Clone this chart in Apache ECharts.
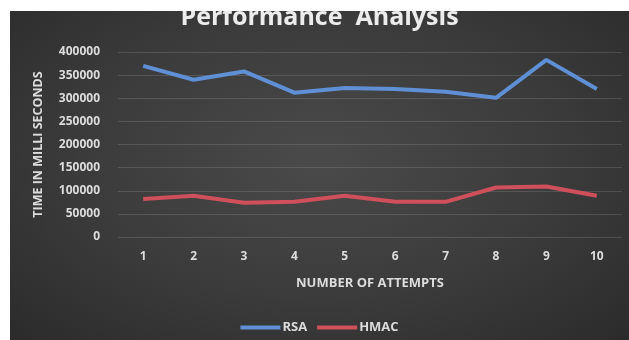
<!DOCTYPE html>
<html>
<head>
<meta charset="utf-8">
<script src="https://cdn.jsdelivr.net/npm/echarts@6/dist/echarts.min.js"></script>
<style>
  html, body { margin: 0; padding: 0; background: #ffffff; }
  #wrap {
    position: absolute; left: 10px; top: 11px; width: 619px; height: 329px;
    background: radial-gradient(ellipse at 50% 45%, #4a4a4a 0%, #3b3b3b 55%, #2b2b2b 100%);
    overflow: hidden;
  }
  #chart { width: 619px; height: 329px; }
</style>
</head>
<body>
<div id="wrap"><div id="chart"></div></div>
<script>
const attempts = ['1', '2', '3', '4', '5', '6', '7', '8', '9', '10'];
const rsa = [370000, 340000, 358000, 312000, 322000, 320000, 314000, 301000, 383000, 320000];
const hmac = [82000, 89000, 74000, 76000, 89000, 76000, 76000, 107000, 109000, 89000];

const textColor = '#dcdcdc';
const font = '"Open Sans", "Liberation Sans", sans-serif';

const myChart = echarts.init(document.getElementById('chart'));

myChart.setOption({
  backgroundColor: 'transparent',
  title: {
    text: 'Performance  Analysis',
    left: 'center',
    top: -11,
    textStyle: { color: '#ececec', fontSize: 25, fontWeight: 'bold', fontFamily: font }
  },
  legend: {
    data: ['RSA', 'HMAC'],
    left: 'center',
    top: 305,
    icon: 'rect',
    itemWidth: 40,
    itemHeight: 4,
    itemGap: 10,
    textStyle: { color: textColor, fontSize: 13, fontWeight: 'bold', fontFamily: font, padding: [0, 0, 0, -3] }
  },
  grid: { left: 108, right: 7, top: 41, bottom: 103 },
  xAxis: {
    type: 'category',
    data: attempts,
    boundaryGap: true,
    name: 'NUMBER OF ATTEMPTS',
    nameLocation: 'middle',
    nameGap: 40,
    nameTextStyle: { color: textColor, fontSize: 13, fontWeight: 'bold', fontFamily: font },
    axisLine: { show: false },
    axisTick: { show: false },
    axisLabel: { color: textColor, fontSize: 12, fontWeight: 'bold', fontFamily: font, margin: 14 }
  },
  yAxis: {
    type: 'value',
    min: 0,
    max: 400000,
    interval: 50000,
    name: 'TIME IN MILLI SECONDS',
    nameLocation: 'middle',
    nameGap: 73,
    nameTextStyle: { color: textColor, fontSize: 12.5, fontWeight: 'bold', fontFamily: font },
    axisLine: { show: false },
    axisTick: { show: false },
    axisLabel: {
      color: textColor, fontSize: 12, fontWeight: 'bold', fontFamily: font, margin: 18,
      formatter: v => String(v)
    },
    splitLine: { lineStyle: { color: 'rgba(255,255,255,0.13)', width: 1 } }
  },
  series: [
    {
      name: 'RSA',
      type: 'line',
      data: rsa,
      symbol: 'none',
      itemStyle: { color: '#5f8fd4' },
      lineStyle: { color: '#5f8fd4', width: 4 }
    },
    {
      name: 'HMAC',
      type: 'line',
      data: hmac,
      symbol: 'none',
      itemStyle: { color: '#cf4f5b' },
      lineStyle: { color: '#cf4f5b', width: 4 }
    }
  ]
});
</script>
</body>
</html>
